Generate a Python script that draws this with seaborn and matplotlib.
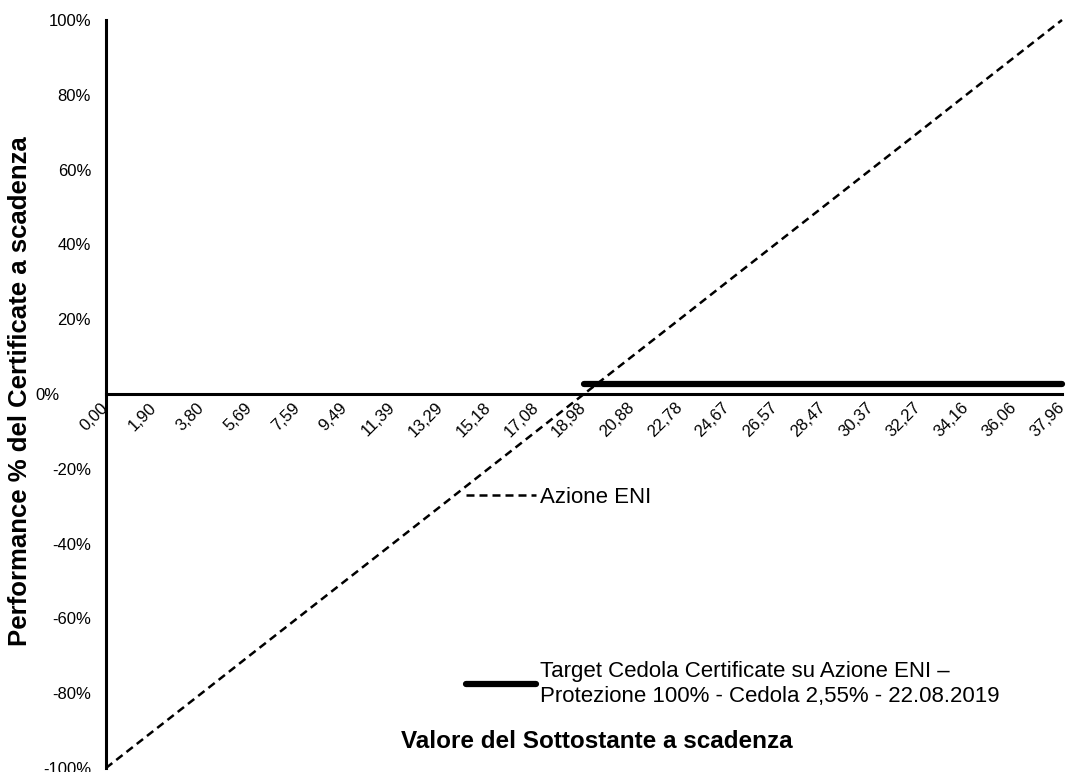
import matplotlib
matplotlib.use('Agg')
import matplotlib.pyplot as plt
import matplotlib.transforms as mtransforms
import seaborn as sns
import numpy as np

# valore del sottostante a scadenza (EUR)
sottostante = [0.00, 1.90, 3.80, 5.69, 7.59, 9.49, 11.39, 13.29, 15.18, 17.08, 18.98,
               20.88, 22.78, 24.67, 26.57, 28.47, 30.37, 32.27, 34.16, 36.06, 37.96]
# performance azione ENI
azione_eni = [-1.00, -0.90, -0.80, -0.70, -0.60, -0.50, -0.40, -0.30, -0.20, -0.10, 0.00,
              0.10, 0.20, 0.30, 0.40, 0.50, 0.60, 0.70, 0.80, 0.90, 1.00]
# performance certificate (solo sopra lo strike)
certificate = [np.nan, np.nan, np.nan, np.nan, np.nan, np.nan, np.nan, np.nan, np.nan, np.nan, 0.0255,
               0.0255, 0.0255, 0.0255, 0.0255, 0.0255, 0.0255, 0.0255, 0.0255, 0.0255, 0.0255]
y_ticks = [-1.0, -0.8, -0.6, -0.4, -0.2, 0.0, 0.2, 0.4, 0.6, 0.8, 1.0]

lbl_azione = 'Azione ENI'
lbl_cert = 'Target Cedola Certificate su Azione ENI –\nProtezione 100% - Cedola 2,55% - 22.08.2019'

sns.set_style('white')
plt.rcParams['font.family'] = ['Liberation Sans', 'DejaVu Sans']
plt.rcParams['text.color'] = 'black'
plt.rcParams['xtick.color'] = 'black'
plt.rcParams['ytick.color'] = 'black'

fig = plt.figure(figsize=(10.68, 7.72), dpi=100)
ax = fig.add_axes([106/1068, 4/772, 956/1068, 748/772])

sns.lineplot(x=sottostante, y=azione_eni, ax=ax, color='black', lw=1.8,
             linestyle='--', label=lbl_azione)
sns.lineplot(x=sottostante, y=certificate, ax=ax, color='black', lw=4.5,
             solid_capstyle='round', label=lbl_cert)
ax.lines[0].set_dashes([3.2, 2.0])
for ln in ax.lines:
    ln.set_clip_on(False)

ax.set_xlim(0, 37.96)
ax.set_ylim(-1, 1)

for s in ['top', 'right']:
    ax.spines[s].set_visible(False)
ax.spines['left'].set_position(('data', 0))
ax.spines['bottom'].set_position(('data', 0))
for s in ['left', 'bottom']:
    ax.spines[s].set_linewidth(2.2)
    ax.spines[s].set_color('black')

ax.set_yticks(y_ticks)
ax.set_yticklabels([f"{int(round(v*100))}%" for v in y_ticks])
ax.tick_params(axis='y', direction='inout', length=7.5, width=2, pad=7, labelsize=12)
# in the original the 0% label sits further left, clear of the x labels
for t in ax.get_yticklabels():
    if t.get_text() == '0%':
        t.set_transform(t.get_transform() + mtransforms.ScaledTranslation(-32/100, 0, fig.dpi_scale_trans))

ax.set_xticks(sottostante)
ax.set_xticklabels([f"{v:.2f}".replace('.', ',') for v in sottostante],
                   rotation=45, ha='right', va='center', rotation_mode='anchor')
ax.tick_params(axis='x', which='major', length=0, pad=8, labelsize=12)
ax.set_xticks(sottostante[::2], minor=True)
ax.tick_params(axis='x', which='minor', direction='inout', length=7.5, width=2)

ax.set_xlabel('')
ax.set_ylabel('')

leg = ax.legend(loc='upper left', bbox_to_anchor=((466-106)/956, (768-487)/748),
                frameon=False, fontsize=16, handlelength=3.15, handletextpad=0.2,
                labelspacing=6.9, borderpad=0, borderaxespad=0)

fig.text(597/1068, 1-741/772, 'Valore del Sottostante a scadenza', ha='center', va='center',
         fontsize=17.5, fontweight='bold')
fig.text(20/1068, 1-391/772, 'Performance % del Certificate a scadenza', ha='center', va='center',
         rotation=90, fontsize=18.5, fontweight='bold')

fig.savefig('out.png', dpi=100)
